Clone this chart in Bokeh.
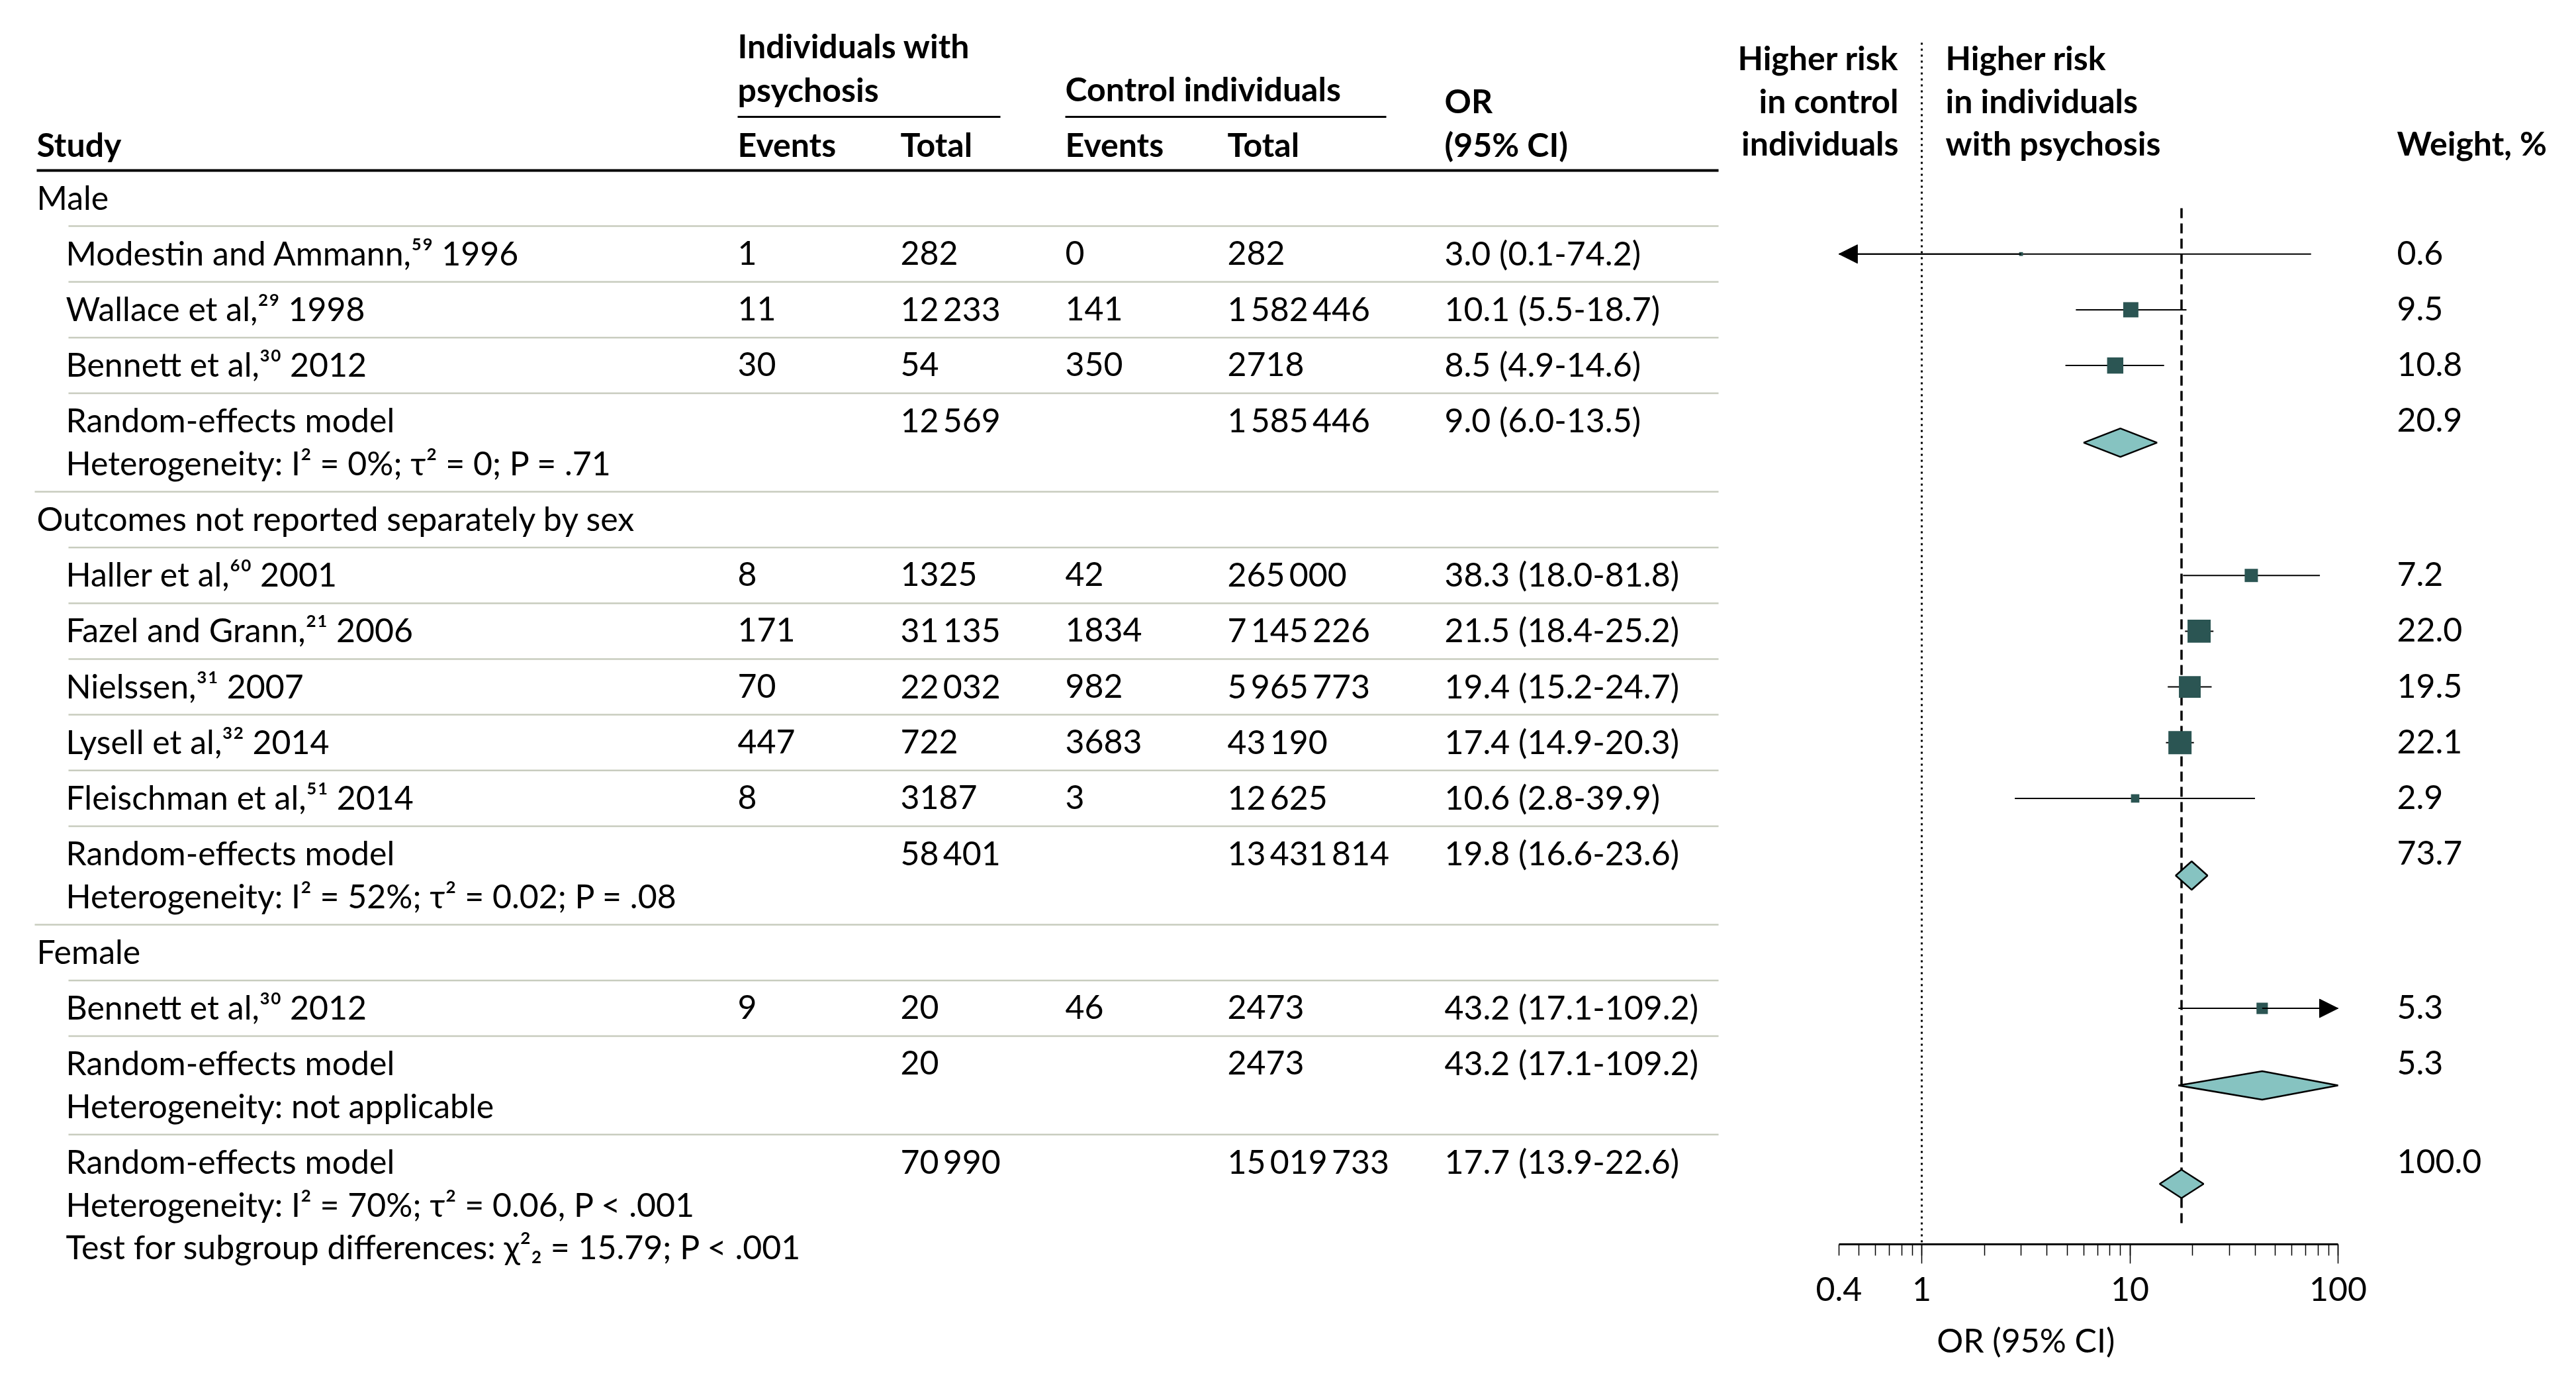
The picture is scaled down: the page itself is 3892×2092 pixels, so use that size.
import math
from bokeh.plotting import figure
from bokeh.models import (Range1d, FixedTicker, Arrow, NormalHead, LogScale, LogAxis,
                          CustomJSTickFormatter)
from bokeh.core.properties import value
from bokeh.embed import file_html
from bokeh.resources import INLINE

# ---------------- data ----------------
row_kind = ["section", "study", "study", "study", "pooled",
            "section", "study", "study", "study", "study", "study", "pooled",
            "section", "study", "pooled", "overall"]
row_label = ["Male",
             "Modestin and Ammann,\u2075\u2079 1996",
             "Wallace et al,\u00b2\u2079 1998",
             "Bennett et al,\u00b3\u2070 2012",
             "Random-effects model",
             "Outcomes not reported separately by sex",
             "Haller et al,\u2076\u2070 2001",
             "Fazel and Grann,\u00b2\u00b9 2006",
             "Nielssen,\u00b3\u00b9 2007",
             "Lysell et al,\u00b3\u00b2 2014",
             "Fleischman et al,\u2075\u00b9 2014",
             "Random-effects model",
             "Female",
             "Bennett et al,\u00b3\u2070 2012",
             "Random-effects model",
             "Random-effects model"]
row_extra = [[], [], [], [], ["Heterogeneity: I\u00b2 = 0%; \u03c4\u00b2 = 0; P = .71"],
             [], [], [], [], [], [], ["Heterogeneity: I\u00b2 = 52%; \u03c4\u00b2 = 0.02; P = .08"],
             [], [], ["Heterogeneity: not applicable"],
             ["Heterogeneity: I\u00b2 = 70%; \u03c4\u00b2 = 0.06, P < .001",
              "Test for subgroup differences: \u03c7\u00b2\u2082 = 15.79; P < .001"]]
events_psy = ["", "1", "11", "30", "", "", "8", "171", "70", "447", "8", "", "", "9", "", ""]
total_psy = ["", "282", "12\u2009233", "54", "12\u2009569", "", "1325", "31\u2009135", "22\u2009032",
             "722", "3187", "58\u2009401", "", "20", "20", "70\u2009990"]
events_ctl = ["", "0", "141", "350", "", "", "42", "1834", "982", "3683", "3", "", "", "46", "", ""]
total_ctl = ["", "282", "1\u2009582\u2009446", "2718", "1\u2009585\u2009446", "", "265\u2009000",
             "7\u2009145\u2009226", "5\u2009965\u2009773", "43\u2009190", "12\u2009625",
             "13\u2009431\u2009814", "", "2473", "2473", "15\u2009019\u2009733"]
or_est = [None, 3.0, 10.1, 8.5, 9.0, None, 38.3, 21.5, 19.4, 17.4, 10.6, 19.8, None, 43.2, 43.2, 17.7]
or_lo = [None, 0.1, 5.5, 4.9, 6.0, None, 18.0, 18.4, 15.2, 14.9, 2.8, 16.6, None, 17.1, 17.1, 13.9]
or_hi = [None, 74.2, 18.7, 14.6, 13.5, None, 81.8, 25.2, 24.7, 20.3, 39.9, 23.6, None, 109.2, 109.2, 22.6]
weight = [None, 0.6, 9.5, 10.8, 20.9, None, 7.2, 22.0, 19.5, 22.1, 2.9, 73.7, None, 5.3, 5.3, 100.0]

major_ticks = [0.4, 1, 10, 100]
long_ticks = [1, 10, 100]
minor_ticks = [0.5, 0.6, 0.7, 0.8, 0.9, 2, 3, 4, 5, 6, 7, 8, 9,
               20, 30, 40, 50, 60, 70, 80, 90]
axis_min, axis_max = 0.4, 100

# ---------------- style / layout ----------------
FONT = "Lato"
FS = "50px"
SQ_COLOR = "#2b5553"
DIA_COLOR = "#86c3c1"
SEP_COLOR = "#c8ccbe"
W, H = 3876, 2076
O = 0                      # page offset of the figure's top-left corner
X_ONE, DECADE = 2903, 314.5
AXIS_Y = 1879
TEXT_DY = -19              # visual text centre vs. baseline

ROW = 84.2
LINE = 64.5
base = []
extra_y = []
y = 316.0 - ROW
for i, k in enumerate(row_kind):
    y += ROW
    base.append(y)
    ey = []
    for _ in row_extra[i]:
        y += LINE
        ey.append(y)
    extra_y.append(ey)
last_line = [ey[-1] if ey else b for b, ey in zip(base, extra_y)]

p = figure(width=W, height=H, x_range=Range1d(O, O + W), y_range=Range1d(O + H, O),
           x_axis_location=None, y_axis_location=None, output_backend="svg",
           toolbar_location=None, min_border=0)
p.grid.visible = False
p.outline_line_color = None
p.background_fill_color = "white"
p.border_fill_color = "white"
p.extra_x_ranges = {"or": Range1d(10 ** ((O - X_ONE) / DECADE), 10 ** ((O + W - X_ONE) / DECADE))}
p.extra_x_scales = {"or": LogScale()}


def txt(x, y, s, align="left", bold=False, xoff=0, rng="default"):
    p.text(x=[x], y=[y + TEXT_DY], text=[s], text_font=value(FONT), text_font_size=FS,
           text_align=align, text_baseline="alphabetic", x_offset=xoff,
           text_font_style="bold" if bold else "normal", text_color="black",
           x_range_name=rng)


# ---------------- table ----------------
C_STUDY, C_IND, C_E1, C_T1, C_E2, C_T2, C_OR = 55, 99, 1114, 1360, 1609, 1854, 2182
RIGHT = 2596
txt(C_E1, 87.5, "Individuals with", bold=True)
txt(C_E1, 153.5, "psychosis", bold=True)
txt(C_E2, 152, "Control individuals", bold=True)
txt(C_OR, 170, "OR", bold=True)
for x, s in [(C_STUDY, "Study"), (C_E1, "Events"), (C_T1, "Total"), (C_E2, "Events"),
             (C_T2, "Total"), (C_OR, "(95% CI)")]:
    txt(x, 236, s, bold=True)
p.segment(x0=[C_E1, C_E2], x1=[1511, 2094], y0=[176, 176], y1=[176, 176], line_color="black", line_width=3)
p.segment(x0=[C_STUDY], x1=[RIGHT], y0=[257], y1=[257], line_color="black", line_width=4)

for i, k in enumerate(row_kind):
    b = base[i]
    if k == "section":
        txt(C_STUDY, b, row_label[i])
        continue
    txt(C_IND, b, row_label[i])
    for s, yy in zip(row_extra[i], extra_y[i]):
        txt(C_IND, yy, s)
    txt(C_E1, b, events_psy[i])
    txt(C_T1, b, total_psy[i])
    txt(C_E2, b, events_ctl[i])
    txt(C_T2, b, total_ctl[i])
    txt(C_OR, b, f"{or_est[i]:.1f} ({or_lo[i]:.1f}-{or_hi[i]:.1f})")

sx0, sy = [], []
for i in range(len(row_kind) - 1):
    sx0.append(C_STUDY - 3 if row_kind[i + 1] == "section" else C_IND + 4)
    sy.append(last_line[i] + 25)
p.segment(x0=sx0, x1=[RIGHT] * len(sy), y0=sy, y1=sy, line_color=SEP_COLOR, line_width=2.5)

# ---------------- forest ----------------
axA = LogAxis(x_range_name="or", fixed_location=AXIS_Y,
              ticker=FixedTicker(ticks=major_ticks, minor_ticks=minor_ticks),
              formatter=CustomJSTickFormatter(code="return tick.toString();"),
              bounds=(axis_min, axis_max))
axA.axis_line_width = 3
axA.axis_line_color = "black"
axA.major_tick_in = 0
axA.major_tick_out = 17
axA.minor_tick_in = 0
axA.minor_tick_out = 17
axA.major_tick_line_width = 1.5
axA.minor_tick_line_width = 1.5
axA.major_tick_line_color = "black"
axA.minor_tick_line_color = "black"
axA.major_label_text_font = FONT
axA.major_label_text_font_size = FS
axA.major_label_text_color = "black"
axA.major_label_standoff = 32
p.add_layout(axA, "below")

axB = LogAxis(x_range_name="or", fixed_location=AXIS_Y,
              ticker=FixedTicker(ticks=long_ticks, minor_ticks=[]),
              bounds=(axis_min, axis_max))
axB.axis_line_color = None
axB.major_tick_in = 0
axB.major_tick_out = 29
axB.minor_tick_out = 0
axB.minor_tick_in = 0
axB.major_tick_line_width = 1.5
axB.major_tick_line_color = "black"
axB.major_label_text_alpha = 0
axB.major_label_text_font_size = "1px"
p.add_layout(axB, "below")

txt(10 ** 0.5, 2042, "OR (95% CI)", align="center", rng="or")

# direction headers
for s, yy in zip(["Higher risk", "in control", "individuals"], [105, 170, 234]):
    txt(1, yy, s, align="right", bold=True, xoff=-35, rng="or")
for s, yy in zip(["Higher risk", "in individuals", "with psychosis"], [105, 170, 234]):
    txt(1, yy, s, align="left", bold=True, xoff=36, rng="or")

# reference lines
p.segment(x0=[1], x1=[1], y0=[64], y1=[AXIS_Y], line_color="black", line_width=3,
          line_dash="3 6", x_range_name="or")
p.segment(x0=[or_est[-1]], x1=[or_est[-1]], y0=[314], y1=[1849], line_color="black",
          line_width=3.5, line_dash="15 8", x_range_name="or")

# studies
st_idx = [i for i, k in enumerate(row_kind) if k == "study"]
yc = [base[i] - 17 for i in st_idx]
lo_c = [max(or_lo[i], axis_min) for i in st_idx]
hi_c = [min(or_hi[i], axis_max) for i in st_idx]
p.segment(x0=lo_c, x1=hi_c, y0=yc, y1=yc, line_color="black", line_width=2, x_range_name="or")
for i, y_ in zip(st_idx, yc):
    for bound, bad in ((axis_min, or_lo[i] < axis_min), (axis_max, or_hi[i] > axis_max)):
        if bad:
            p.add_layout(Arrow(end=NormalHead(size=28, fill_color="black", line_color="black"),
                               x_start=or_est[i], x_end=bound, y_start=y_, y_end=y_,
                               line_color="black", line_width=2, x_range_name="or"))
p.scatter(x=[or_est[i] for i in st_idx], y=yc, marker="square",
          size=[7.45 * math.sqrt(weight[i]) for i in st_idx],
          fill_color=SQ_COLOR, line_color=None, x_range_name="or")

# pooled diamonds
pl_idx = [i for i, k in enumerate(row_kind) if k in ("pooled", "overall")]
xs, ys = [], []
DH = 21.5
for i in pl_idx:
    c = (base[i] + extra_y[i][0]) / 2 - 17
    xs.append([max(or_lo[i], axis_min), or_est[i], min(or_hi[i], axis_max), or_est[i]])
    ys.append([c, c - DH, c, c + DH])
p.patches(xs=xs, ys=ys, fill_color=DIA_COLOR, line_color="black", line_width=2.5, x_range_name="or")

# ---------------- weights ----------------
C_W = 3621
txt(C_W, 234, "Weight, %", bold=True)
for i, k in enumerate(row_kind):
    if weight[i] is not None:
        txt(C_W, base[i], f"{weight[i]:.1f}")

open("out.html", "w").write(file_html(p, INLINE))
